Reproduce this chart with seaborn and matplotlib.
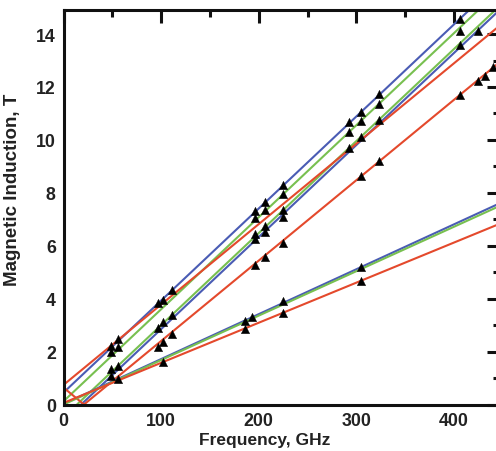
import matplotlib
matplotlib.use("Agg")
import matplotlib.pyplot as plt
import seaborn as sns
import pandas as pd
from matplotlib.ticker import MultipleLocator

# ---- fitted lines (frequency GHz -> field T) ----
blue1_f = [0, 450];        blue1_B = [0.45, 16.11]
green1_f = [0, 450];       green1_B = [0.12, 15.78]
green2_f = [13.8, 450];    green2_B = [0.0, 15.18]
blue2_f = [18.1, 450];     blue2_B = [0.0, 15.03]
red1_f = [0, 450];         red1_B = [0.74, 14.42]
red2_f = [0, 21, 450];     red2_B = [0.64, 0.0, 13.04]
blue3_f = [0, 450];        blue3_B = [0.02, 7.66]
green3_f = [0, 450];       green3_B = [0.0, 7.56]
red3_f = [0, 450];         red3_B = [0.06, 6.88]

# ---- measured points ----
pts_f = [48.8, 48.8, 48.8, 48.8,
         55.6, 55.6, 55.6, 55.6,
         96.5, 96.5, 96.5,
         101.6, 101.6, 101.6, 101.6,
         111.2, 111.2, 111.2,
         186, 186, 193,
         196.5, 196.5, 196.5, 196.5, 196.5,
         206, 206, 206, 206, 206,
         224.5, 224.5, 224.5, 224.5, 224.5,
         225, 225,
         292.7, 292.7, 292.7,
         304.7, 304.7, 304.7, 304.7,
         304.7, 304.7,
         323.4, 323.4, 323.4, 323.4,
         406, 406, 406, 406,
         424, 424, 432, 440]
pts_B = [2.22, 1.97, 1.34, 1.09,
         2.48, 2.16, 1.44, 0.96,
         3.83, 2.88, 2.16,
         3.95, 3.12, 2.35, 1.62,
         4.34, 3.38, 2.67,
         3.15, 2.85, 3.30,
         7.33, 7.04, 6.45, 6.26, 5.27,
         7.67, 7.35, 6.74, 6.51, 5.57,
         8.30, 7.96, 7.35, 7.10, 6.09,
         3.90, 3.45,
         10.67, 10.29, 9.70,
         11.05, 10.71, 10.10, 8.63,
         5.19, 4.68,
         11.74, 11.36, 10.77, 9.22,
         14.57, 14.13, 13.59, 11.70,
         14.13, 12.24, 12.40, 12.75]

BLUE = "#4a5cb4"
GREEN = "#78c050"
RED = "#e4492c"

lines = [("blue1", blue1_f, blue1_B, BLUE), ("green1", green1_f, green1_B, GREEN),
         ("green2", green2_f, green2_B, GREEN), ("blue2", blue2_f, blue2_B, BLUE),
         ("red1", red1_f, red1_B, RED), ("red2", red2_f, red2_B, RED),
         ("blue3", blue3_f, blue3_B, BLUE), ("green3", green3_f, green3_B, GREEN),
         ("red3", red3_f, red3_B, RED)]

rows = []
for name, fs, bs, _ in lines:
    for i, (f, b) in enumerate(zip(fs, bs)):
        rows.append({"line": name, "f": f, "B": b, "order": i})
df = pd.DataFrame(rows)
pal = {name: c for name, _, _, c in lines}
pts = pd.DataFrame({"f": pts_f, "B": pts_B})

sns.set_theme(style="white")
plt.rcParams["font.family"] = ["Liberation Sans", "DejaVu Sans"]
plt.rcParams["font.weight"] = "bold"

fig = plt.figure(figsize=(4.96, 4.52), dpi=100)
ax = fig.add_axes([63.5 / 496, 1 - 405.5 / 452, (500 - 63.5) / 496, (405.5 - 11) / 452])

sns.lineplot(data=df, x="f", y="B", hue="line", palette=pal, units="line",
             estimator=None, sort=False, legend=False, linewidth=1.5, ax=ax)
sns.scatterplot(data=pts, x="f", y="B", marker="^", color="black", s=36,
                edgecolor="black", linewidth=0.3, ax=ax, zorder=5, clip_on=True)

ax.set_xlim(0, 447)
ax.set_ylim(0, 14.91)
ax.xaxis.set_major_locator(MultipleLocator(100))
ax.xaxis.set_minor_locator(MultipleLocator(50))
ax.yaxis.set_major_locator(MultipleLocator(2))
ax.yaxis.set_minor_locator(MultipleLocator(1))
for s in ax.spines.values():
    s.set_linewidth(2.2)
    s.set_color("#111111")
ax.tick_params(which="both", direction="in", top=True, right=True,
               width=2.2, color="#111111", labelsize=12.8, labelcolor="#222222")
ax.tick_params(which="major", length=9.5, pad=5.5)
ax.tick_params(which="minor", length=5)
for lab in ax.get_xticklabels() + ax.get_yticklabels():
    lab.set_fontweight("bold")
ax.set_xlabel("")
ax.set_ylabel("")
fig.text(265 / 496, 1 - 441 / 452, "Frequency, GHz", ha="center", va="center",
         fontsize=12.5, fontweight="bold", color="#222222")
fig.text(13 / 496, 1 - 190 / 452, "Magnetic Induction, T", ha="center", va="center",
         rotation=90, fontsize=13.5, fontweight="bold", color="#222222")

fig.savefig("out.png", dpi=100)
